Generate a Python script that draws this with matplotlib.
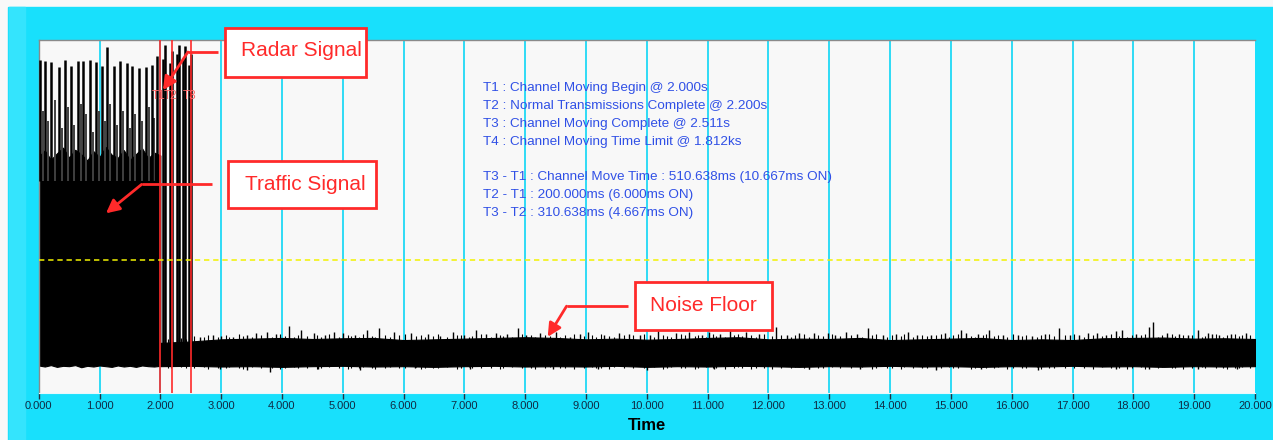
import numpy as np
import matplotlib.pyplot as plt
from matplotlib.patches import Rectangle

plt.rcParams['font.family'] = ['Liberation Sans', 'DejaVu Sans']

# ---- data (time in s, level in screen units 0..100) ----
marker_names = ['T1', 'T2', 'T3']
marker_times = [2.000, 2.200, 2.511]
threshold = 37.7

# traffic burst envelope, 0 - 2 s
traffic_t = [0.0, 0.1, 0.2, 0.3, 0.4, 0.5, 0.6, 0.7, 0.8, 0.9, 1.0,
             1.1, 1.2, 1.3, 1.4, 1.5, 1.6, 1.7, 1.8, 1.9, 2.0]
traffic_top = [67.0, 68.7, 66.1, 67.9, 69.5, 66.7, 68.9, 67.6, 65.9, 68.5, 66.8,
               69.7, 67.5, 66.6, 68.8, 66.0, 67.7, 69.3, 66.5, 68.1, 67.3]
traffic_bot = [7.8, 7.5, 7.9, 7.4, 7.7, 7.6, 7.9, 7.3, 7.7, 7.5, 7.8,
               7.6, 7.4, 7.8, 7.5, 7.7, 7.4, 7.8, 7.6, 7.5, 7.7]

# radar pulses on top of the traffic
radar_t = [0.02, 0.11, 0.21, 0.33, 0.43, 0.53, 0.64, 0.73, 0.84, 0.94,
           1.04, 1.13, 1.24, 1.34, 1.45, 1.54, 1.65, 1.76, 1.86, 1.95]
radar_peak = [94.3, 94.1, 93.8, 92.4, 94.3, 92.6, 94.1, 94.1, 94.3, 93.8,
              92.6, 98.0, 92.6, 94.1, 93.5, 92.6, 92.1, 92.4, 92.9, 95.5]
burst_t = [0.07, 0.16, 0.26, 0.38, 0.48, 0.58, 0.69, 0.78, 0.89, 0.99,
           1.09, 1.18, 1.29, 1.39, 1.50, 1.59, 1.70, 1.81, 1.90]
burst_peak = [80.0, 77.0, 83.0, 75.0, 81.0, 76.0, 82.0, 79.0, 74.0, 80.0,
              77.0, 82.0, 76.0, 80.0, 75.0, 79.0, 77.0, 81.0, 78.0]

# pulses during the channel move (T1 - T3)
move_t = [2.04, 2.08, 2.16, 2.20, 2.27, 2.30, 2.38, 2.41, 2.47, 2.50]
move_peak = [94.5, 98.5, 93.5, 97.0, 96.0, 98.5, 95.0, 98.3, 93.0, 96.0]

# noise floor envelope, 2 - 20 s
noise_t = [2.0, 2.5, 3.0, 3.5, 4.0, 4.5, 5.0, 5.5, 6.0, 6.5, 7.0, 7.5, 8.0,
           8.5, 9.0, 9.5, 10.0, 10.5, 11.0, 11.5, 12.0, 12.5, 13.0, 13.5,
           14.0, 14.5, 15.0, 15.5, 16.0, 16.5, 17.0, 17.5, 18.0, 18.5, 19.0,
           19.5, 20.0]
noise_top = [14.2, 14.6, 15.2, 15.4, 15.6, 15.3, 15.5, 15.6, 15.0, 15.2, 15.4,
             15.6, 15.8, 15.6, 15.2, 15.4, 15.1, 15.3, 15.6, 15.8, 15.2, 15.4,
             15.3, 15.6, 15.0, 15.2, 15.4, 15.6, 15.0, 15.2, 15.0, 15.5, 15.6,
             15.7, 15.4, 15.5, 15.3]
noise_bot = [7.6, 7.7, 7.5, 7.6, 7.4, 7.6, 7.7, 7.5, 7.6, 7.4, 7.6, 7.7, 7.5,
             7.6, 7.5, 7.7, 7.4, 7.6, 7.5, 7.7, 7.6, 7.4, 7.6, 7.5, 7.7, 7.5,
             7.6, 7.4, 7.6, 7.5, 7.7, 7.5, 7.6, 7.4, 7.6, 7.5, 7.6]

# taller noise spikes
spike_t = [2.3, 2.65, 2.87, 3.0, 3.2, 3.42, 3.58, 3.75, 3.9, 4.12, 4.32, 4.52,
           4.7, 4.85, 5.01, 5.2, 5.4, 5.6, 5.84, 6.13, 6.4, 6.6, 6.81, 7.0,
           7.19, 7.35, 7.52, 7.7, 7.88, 8.02, 8.25, 8.51, 8.73, 8.9, 9.03,
           9.3, 9.55, 9.7, 9.88, 10.05, 10.18, 10.48, 10.7, 10.9, 11.03, 11.2,
           11.36, 11.63, 11.85, 12.13, 12.3, 12.51, 12.75, 12.98, 13.1, 13.28,
           13.45, 13.63, 13.88, 14.1, 14.29, 14.45, 14.68, 14.9, 15.17, 15.25,
           15.45, 15.63, 15.85, 16.1, 16.34, 16.55, 16.78, 16.95, 17.11,
           17.25, 17.41, 17.55, 17.71, 17.82, 18.05, 18.26, 18.33, 18.56,
           18.75, 18.9, 19.07, 19.22, 19.3, 19.41, 19.6, 19.85]
spike_top = [15.6, 16.0, 16.4, 16.2, 16.0, 16.4, 16.9, 17.4, 16.6, 19.1, 17.8,
             16.9, 16.4, 17.4, 16.9, 16.5, 17.8, 18.5, 17.4, 16.9, 16.6, 16.2,
             17.4, 16.4, 17.8, 16.8, 16.9, 16.6, 18.3, 16.5, 16.9, 17.4, 16.0,
             16.6, 17.4, 16.4, 16.9, 16.8, 16.5, 16.3, 17.8, 16.9, 17.2, 16.4,
             17.4, 16.6, 17.8, 17.4, 16.8, 18.8, 16.5, 16.9, 17.0, 16.9, 16.4,
             17.4, 16.6, 18.3, 16.5, 16.8, 17.4, 16.3, 16.5, 16.9, 17.8, 17.1,
             16.6, 17.8, 16.4, 16.5, 16.2, 16.8, 18.3, 16.3, 16.5, 16.9, 17.1,
             16.4, 17.6, 17.8, 16.6, 18.6, 20.2, 16.9, 16.8, 16.3, 17.9, 17.1,
             16.6, 16.5, 16.8, 17.1]
dip_t = [2.98, 3.42, 3.8, 4.6, 5.29, 6.19, 7.1, 8.46, 9.2, 10.0, 11.1, 12.67,
         13.5, 14.76, 15.5, 16.43, 17.71, 18.26, 19.06, 19.7]
dip_bot = [6.7, 6.4, 6.0, 6.8, 6.5, 7.0, 6.9, 6.8, 6.9, 6.5, 6.9, 6.8, 6.9,
           6.5, 6.9, 6.5, 6.7, 6.8, 6.8, 6.9]

# small hairs along the edges of the noise band
hair_t = [2.55, 2.72, 2.79, 2.95, 3.08, 3.13, 3.29, 3.36, 3.5, 3.66,
          3.83, 3.97, 4.05, 4.19, 4.26, 4.41, 4.58, 4.64, 4.78, 4.93,
          5.08, 5.14, 5.27, 5.34, 5.48, 5.53, 5.69, 5.77, 5.92, 6.03,
          6.21, 6.28, 6.35, 6.49, 6.56, 6.72, 6.88, 6.94, 7.07, 7.13,
          7.27, 7.44, 7.59, 7.64, 7.79, 7.95, 8.09, 8.16, 8.33, 8.4,
          8.58, 8.65, 8.81, 8.97, 9.1, 9.17, 9.24, 9.38, 9.46, 9.62,
          9.78, 9.95, 10.11, 10.26, 10.33, 10.4, 10.56, 10.62, 10.79, 10.84,
          10.97, 11.09, 11.14, 11.28, 11.43, 11.5, 11.56, 11.71, 11.79, 11.93,
          12.05, 12.2, 12.37, 12.44, 12.59, 12.66, 12.82, 12.9, 13.04, 13.18,
          13.35, 13.53, 13.7, 13.77, 13.95, 14.03, 14.18, 14.23, 14.37, 14.52,
          14.6, 14.75, 14.83, 14.97, 15.04, 15.11, 15.33, 15.39, 15.52, 15.58,
          15.71, 15.78, 15.93, 16.02, 16.17, 16.24, 16.41, 16.48, 16.62, 16.7,
          16.87, 17.03, 17.18, 17.33, 17.48, 17.63, 17.76, 17.9, 17.97, 18.12,
          18.19, 18.4, 18.47, 18.63, 18.69, 18.82, 18.97, 19.13, 19.18, 19.36,
          19.47, 19.54, 19.67, 19.74, 19.79, 19.92, 2.12, 2.18, 2.34, 2.42]
hair_top = [16.2, 15.9, 16.5, 16.0, 16.3, 15.8, 16.6, 16.1, 15.9, 16.4,
            16.0, 16.7, 16.2, 15.9, 16.5, 16.1, 16.3, 15.8, 16.6, 16.0,
            16.4, 16.1, 15.9, 16.6, 16.2, 16.0, 16.5, 15.8, 16.3, 16.7,
            16.1, 16.4, 15.9, 16.2, 16.6, 16.0, 16.3, 16.5, 15.9, 16.2,
            16.7, 16.0, 16.4, 16.1, 15.8, 16.6, 16.3, 16.0, 16.5, 16.2,
            15.9, 16.4, 16.8, 16.1, 16.3, 15.9, 16.6, 16.2, 16.0, 16.5,
            16.3, 16.7, 16.0, 16.4, 16.1, 15.9, 16.6, 16.3, 16.2, 16.5,
            16.0, 16.8, 16.2, 15.9, 16.4, 16.6, 16.1, 16.3, 16.0, 16.7,
            16.2, 16.5, 15.9, 16.3, 16.6, 16.0, 16.4, 16.2, 16.8, 16.1,
            16.5, 15.9, 16.3, 16.7, 16.0, 16.4, 16.2, 16.6, 15.9, 16.3,
            16.1, 16.5, 16.8, 16.0, 16.3, 16.6, 16.2, 15.9, 16.4, 16.7,
            16.1, 16.3, 16.0, 16.6, 16.2, 16.5, 15.9, 16.4, 16.8, 16.1,
            16.3, 16.6, 16.0, 16.4, 16.2, 16.7, 16.1, 15.9, 16.5, 16.3,
            16.8, 16.0, 16.4, 16.6, 16.1, 16.3, 16.5, 15.9, 16.2, 16.7,
            16.0, 16.4, 16.6, 16.1, 16.3, 16.5, 15.3, 15.1, 15.5, 15.2]
hair_bot = [7.1, 7.3, 6.9, 7.2, 7.0, 7.4, 7.1, 6.9, 7.3, 7.0,
            7.2, 6.9, 7.1, 7.4, 7.0, 7.2, 6.8, 7.1, 7.3, 7.0,
            6.9, 7.2, 7.0, 7.3, 7.1, 6.9, 7.2, 7.4, 7.0, 7.1,
            7.3, 6.9, 7.1, 7.0, 7.2, 7.4, 6.9, 7.1, 7.3, 7.0,
            7.2, 7.0, 6.8, 7.1, 7.3, 7.0, 7.2, 6.9, 7.1, 7.3,
            7.0, 7.2, 6.9, 7.1, 7.4, 7.0, 7.1, 6.9, 7.3, 7.1,
            7.0, 7.2, 7.4, 6.9, 7.1, 7.3, 7.0, 7.2, 6.9, 7.1,
            7.3, 7.0, 7.2, 6.9, 7.1, 7.3, 7.0, 6.8, 7.2, 7.1,
            6.9, 7.2, 7.0, 7.3, 7.1, 6.9, 7.2, 7.0, 7.4, 7.1,
            7.0, 7.3, 6.9, 7.1, 7.2, 7.0, 6.9, 7.3, 7.1, 7.0,
            7.2, 6.9, 7.1, 7.3, 7.0, 7.2, 6.8, 7.1, 7.3, 7.0,
            7.1, 7.3, 6.9, 7.2, 7.0, 7.1, 7.3, 6.9, 7.0, 7.2,
            7.0, 7.2, 7.1, 6.9, 7.3, 7.0, 7.2, 6.9, 7.1, 7.3,
            6.9, 7.1, 7.3, 7.0, 7.2, 6.9, 7.1, 7.3, 7.0, 7.2,
            7.1, 6.9, 7.2, 7.0, 7.3, 7.1, 7.2, 7.0, 7.3, 7.1]

info_lines = [
    'T1 : Channel Moving Begin @ 2.000s',
    'T2 : Normal Transmissions Complete @ 2.200s',
    'T3 : Channel Moving Complete @ 2.511s',
    'T4 : Channel Moving Time Limit @ 1.812ks',
    '',
    'T3 - T1 : Channel Move Time : 510.638ms (10.667ms ON)',
    'T2 - T1 : 200.000ms (6.000ms ON)',
    'T3 - T2 : 310.638ms (4.667ms ON)',
]
xticks = list(range(0, 21))

W, H = 1273, 440
fig = plt.figure(figsize=(W / 100, H / 100), dpi=100, facecolor='#f8f8f8')
fig.patches.append(Rectangle((8 / W, 0), 1, (H - 7) / H, transform=fig.transFigure,
                             color='#18e0fc', zorder=-2))
fig.patches.append(Rectangle((9 / W, 0), 16 / W, (H - 7) / H, transform=fig.transFigure,
                             color='#34e4fd', zorder=-1))

ax = fig.add_axes([38.7 / W, (H - 393) / H, 1216.3 / W, 353 / H])
ax.set_facecolor('#f8f8f8')
ax.set_xlim(0, 20)
ax.set_ylim(0, 100)

# grid behind the trace
for t in xticks[1:-1]:
    ax.axvline(t, color='#1ed8f5', lw=1.3, zorder=1)

red = '#ff2a2a'
black = 'black'

# traffic burst
ax.fill_between(traffic_t, traffic_bot, traffic_top, color=black, lw=0.8, zorder=2)
ax.vlines(burst_t, 60, burst_peak, color='#404040', lw=1.4, zorder=2)
ax.vlines(radar_t, 60, radar_peak, color=black, lw=1.8, zorder=3)

# noise floor
ax.fill_between(noise_t, noise_bot, noise_top, color=black, lw=0.8, zorder=2)
ax.vlines(hair_t, 12, hair_top, color=black, lw=0.8, zorder=2)
ax.vlines(hair_t, hair_bot, 10, color=black, lw=0.8, zorder=2)
ax.vlines(spike_t, 12, spike_top, color=black, lw=1.0, zorder=2)
ax.vlines(dip_t, dip_bot, 10, color=black, lw=1.0, zorder=2)
ax.vlines(move_t, 12, move_peak, color=black, lw=1.8, zorder=3)

# markers and threshold
for name, t in zip(marker_names, marker_times):
    ax.axvline(t, color=red, lw=1.2, zorder=4)
    ax.text(t - 0.03, 84.0, name, color='#ff6a6a', fontsize=8.5,
            ha='center', va='center', zorder=5)
ax.axhline(threshold, color='#f2f200', lw=1.1, ls=(0, (3.5, 2.5)), zorder=4)

# info block
y0 = 86.3
for i, line in enumerate(info_lines):
    ax.text(7.3, y0 - i * 5.04, line, color='#3050e6', fontsize=9.7,
            ha='left', va='center', zorder=5)

# callouts: (label, box x0, x1, y0, y1, text x, text y, start, knee, tip)
callouts = [
    ('Radar Signal', 3.062, 5.39, 89.4, 103.3, 3.32, 96.9,
     (2.946, 96.6), (2.453, 96.6), (2.043, 85.8)),
    ('Traffic Signal', 3.11, 5.54, 52.4, 65.8, 3.39, 59.2,
     (2.85, 59.1), (1.693, 59.1), (1.106, 50.9)),
    ('Noise Floor', 9.80, 12.06, 17.8, 31.5, 10.06, 24.8,
     (9.69, 24.6), (8.68, 24.6), (8.37, 15.9)),
]
for lab, bx0, bx1, by0, by1, tx, ty, p0, p1, p2 in callouts:
    ax.add_patch(Rectangle((bx0, by0), bx1 - bx0, by1 - by0, facecolor='white',
                           edgecolor=red, lw=2, zorder=6, clip_on=False))
    ax.text(tx, ty, lab, color=red, fontsize=15, ha='left', va='center',
            zorder=7, clip_on=False)
    ax.plot([p0[0], p1[0]], [p0[1], p1[1]], color=red, lw=2, zorder=6,
            solid_capstyle='butt')
    ax.annotate('', xy=p2, xytext=p1,
                arrowprops=dict(arrowstyle='-|>', color=red, lw=2,
                                mutation_scale=20, shrinkA=0, shrinkB=0),
                zorder=6)

ax.set_yticks([])
ax.set_xticks(xticks)
ax.set_xticklabels(['%.3f' % t for t in xticks])
ax.tick_params(axis='x', direction='out', length=4, width=1, color='#203040',
               labelcolor='#102a43', labelsize=8, pad=2)
for side in ['top', 'left']:
    ax.spines[side].set_color('#8a8a8a')
    ax.spines[side].set_linewidth(1)
ax.spines['right'].set_visible(False)
ax.spines['bottom'].set_color('#e8f8fc')
ax.set_xlabel('Time', fontsize=12, fontweight='bold', labelpad=5)

fig.savefig('out.png', dpi=100, facecolor=fig.get_facecolor())
